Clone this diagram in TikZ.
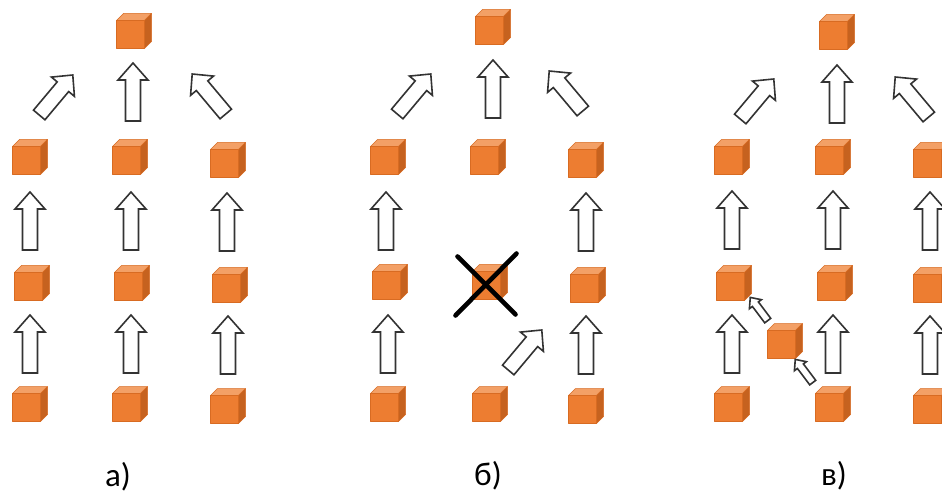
\documentclass[tikz,border=0pt]{standalone}
\usepackage{fontspec}
\setmainfont{Carlito}
\definecolor{orfront}{HTML}{ED7D31}
\definecolor{ortop}{HTML}{F3A066}
\definecolor{orside}{HTML}{C6621F}
\definecolor{oredge}{HTML}{D86B22}
\definecolor{arrowline}{HTML}{333333}
\tikzset{
  facestyle/.style={draw=oredge, line width=0.5pt, line join=round},
  frontface/.style={facestyle, fill=orfront, minimum size=28pt, inner sep=0pt, outer sep=0pt},
  % orange cube: front face is a named node, top and side faces drawn around it
  cube/.pic={
    \filldraw[facestyle, fill=ortop] (-17.5,-10.5) -- (-10.5,-17.5) -- (17.5,-17.5) -- (10.5,-10.5) -- cycle;
    \filldraw[facestyle, fill=orside] (10.5,-10.5) -- (17.5,-17.5) -- (17.5,10.5) -- (10.5,17.5) -- cycle;
    \node[frontface] (-f) at (-3.5,3.5) {};
  },
  arrowstyle/.style={draw=arrowline, fill=white, line width=1.6pt, line join=miter},
  % hollow block arrow pointing up, centred on its origin
  barrow/.pic={
    \filldraw[arrowstyle] (-7.5,29) -- (-7.5,-12) -- (-15,-12) -- (0,-29)
      -- (15,-12) -- (7.5,-12) -- (7.5,29) -- cycle;
  },
  toright/.style={rotate=-40, yscale=0.9},
  toleft/.style={rotate=40, yscale=0.9},
  tiny/.style={rotate=37, scale=0.5},
  lab/.style={font=\fontsize{33}{38}\selectfont, text=black, inner sep=0pt},
  cross/.style={draw=black, line width=4.6pt, line cap=round}
}
\begin{document}
\begin{tikzpicture}[x=1pt, y=-1pt]
\useasboundingbox (0,0) rectangle (942,494);
\clip (0,0) rectangle (942,494);
\fill[white] (0,0) rectangle (942,494);

% ---------- а) ----------
\pic (a-top) at (134,31) {cube};
\pic[toright] at (56,95) {barrow};
\pic at (133,92) {barrow};
\pic[toleft] at (209,94) {barrow};
\pic (a-11) at (30,157) {cube};
\pic (a-12) at (130,157) {cube};
\pic (a-13) at (228,160) {cube};
\pic at (30,221) {barrow};
\pic at (131,221) {barrow};
\pic at (227,222) {barrow};
\pic (a-21) at (32,283) {cube};
\pic (a-22) at (132,283) {cube};
\pic (a-23) at (230,285) {cube};
\pic at (30,344) {barrow};
\pic at (131,344) {barrow};
\pic at (228,345) {barrow};
\pic (a-31) at (30,404) {cube};
\pic (a-32) at (130,404) {cube};
\pic (a-33) at (228,406) {cube};
\node[lab] (lab-a) at (118,477) {а)};

% ---------- б) ----------
\pic (b-top) at (493,27) {cube};
\pic[toright] at (414,94) {barrow};
\pic at (493,89) {barrow};
\pic[toleft] at (566,91) {barrow};
\pic (b-11) at (388,157) {cube};
\pic (b-12) at (488,157) {cube};
\pic (b-13) at (586,160) {cube};
\pic at (386,221) {barrow};
\pic at (586,222) {barrow};
\pic (b-21) at (390,282) {cube};
\pic (b-22) at (490,282) {cube};
\pic (b-23) at (588,285) {cube};
\draw[cross] (b-22-f.center) ++(-29,-29) -- ++(58,58);
\draw[cross] (b-22-f.center) ++(30,-32) -- ++(-61,62);
\pic at (388,344) {barrow};
\pic at (586,345) {barrow};
\pic[toright] at (525,350) {barrow};
\pic (b-31) at (388,404) {cube};
\pic (b-32) at (490,404) {cube};
\pic (b-33) at (586,406) {cube};
\node[lab] (lab-b) at (488,476) {б)};

% ---------- в) ----------
\pic (c-top) at (837,32) {cube};
\pic[toright] at (757,99) {barrow};
\pic at (837,94) {barrow};
\pic[toleft] at (912,97) {barrow};
\pic (c-11) at (732,157) {cube};
\pic (c-12) at (833,157) {cube};
\pic (c-13) at (931,160) {cube};
\pic at (732,220) {barrow};
\pic at (833,220) {barrow};
\pic at (930,221) {barrow};
\pic (c-21) at (734,283) {cube};
\pic (c-22) at (835,283) {cube};
\pic (c-23) at (931,285) {cube};
\pic at (732,344) {barrow};
\pic at (833,344) {barrow};
\pic at (930,345) {barrow};
\pic (c-m) at (785,341) {cube};
\pic[tiny] at (759,309) {barrow};
\pic[tiny] at (804,371) {barrow};
\pic (c-31) at (732,404) {cube};
\pic (c-32) at (833,404) {cube};
\pic (c-33) at (931,406) {cube};
\node[lab] (lab-c) at (834,476) {в)};
\end{tikzpicture}
\end{document}
